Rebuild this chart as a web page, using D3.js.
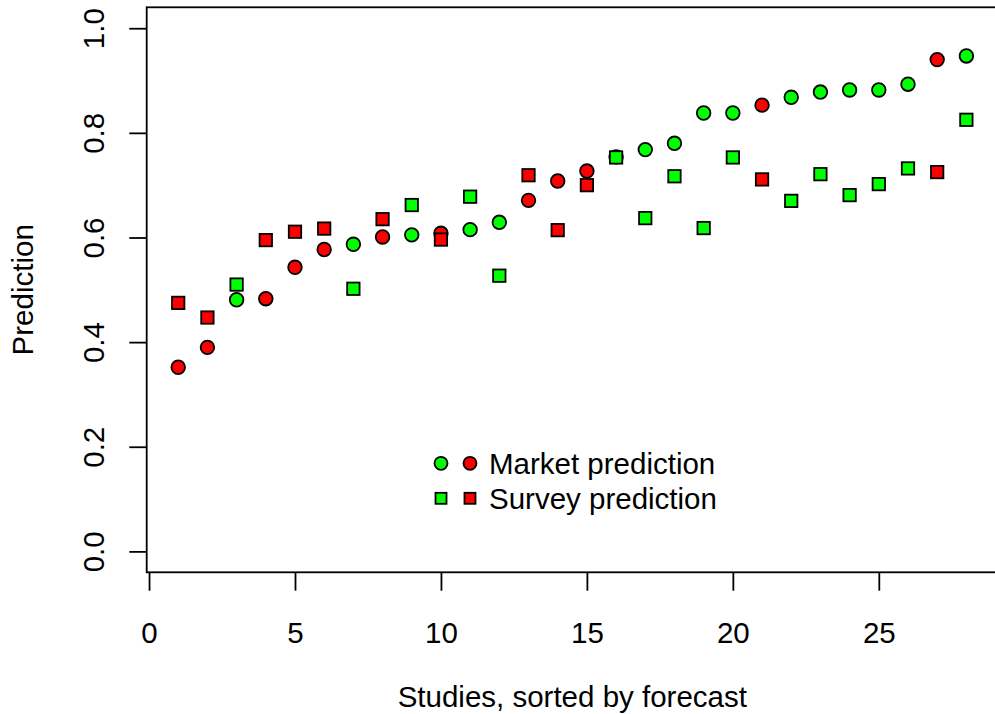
<!DOCTYPE html>
<html>
<head>
<meta charset="utf-8">
<script src="https://cdn.jsdelivr.net/npm/d3@7"></script>
<style>
  body { margin: 0; background: #fff; }
  svg { display: block; font-family: "Liberation Sans", Arial, sans-serif; }
</style>
</head>
<body>
<svg id="chart" width="995" height="714"></svg>
<script>
// studies, sorted by forecast
var studies = d3.range(1, 29);
var marketPred = [0.352, 0.390, 0.481, 0.483, 0.543, 0.577, 0.587, 0.601, 0.605, 0.608,
                  0.615, 0.629, 0.671, 0.708, 0.727, 0.754, 0.768, 0.780, 0.838, 0.838,
                  0.853, 0.868, 0.878, 0.882, 0.882, 0.893, 0.940, 0.947];
var surveyPred = [0.475, 0.447, 0.510, 0.595, 0.611, 0.617, 0.502, 0.635, 0.662, 0.596,
                  0.678, 0.527, 0.719, 0.614, 0.700, 0.753, 0.637, 0.717, 0.618, 0.753,
                  0.711, 0.670, 0.721, 0.681, 0.702, 0.732, 0.725, 0.825];
// true = replicated (green), false = not (red)
var replicated = [false, false, true, false, false, false, true, false, true, false,
                  true, true, false, false, false, true, true, true, true, true,
                  false, true, true, true, true, true, false, true];
var xTicks = [0, 5, 10, 15, 20, 25];
var yTicks = [0, 0.2, 0.4, 0.6, 0.8, 1.0];

var box = {left: 146.7, right: 997.9, top: 7.3, bottom: 572.3};
var fontSize = 29.5;
var lw = 1.8;

var svg = d3.select("#chart");

var x = d3.scaleLinear().domain([-0.08, 29.08]).range([box.left, box.right]);
var y = d3.scaleLinear().domain([-0.04, 1.04]).range([box.bottom, box.top]);

function colorOf(i) { return replicated[i] ? "#00ff00" : "#ff0000"; }

var market = studies.map(function(s, i) { return {study: s, value: marketPred[i], ok: replicated[i]}; });
var survey = studies.map(function(s, i) { return {study: s, value: surveyPred[i], ok: replicated[i]}; });

// box
svg.append("rect")
    .attr("x", box.left)
    .attr("y", box.top)
    .attr("width", box.right - box.left)
    .attr("height", box.bottom - box.top)
    .attr("fill", "none")
    .attr("stroke", "#000")
    .attr("stroke-width", lw);

// x axis
var xAxis = d3.axisBottom(x).tickValues(xTicks).tickSize(18.4).tickSizeOuter(0).tickPadding(31);
var gx = svg.append("g")
    .attr("transform", "translate(0," + box.bottom + ")")
    .call(xAxis);
gx.select(".domain").remove();
gx.selectAll(".tick line").attr("stroke-width", lw);
gx.selectAll(".tick text")
    .attr("font-size", fontSize)
    .attr("font-family", "Liberation Sans, Arial, sans-serif")
    .attr("fill", "#000");

// y axis
var yAxis = d3.axisLeft(y).tickValues(yTicks).tickSize(17.4).tickSizeOuter(0)
    .tickFormat(d3.format(".1f"));
var gy = svg.append("g")
    .attr("transform", "translate(" + box.left + ",0)")
    .call(yAxis);
gy.select(".domain").remove();
gy.selectAll(".tick line").attr("stroke-width", lw);
gy.selectAll(".tick text")
    .attr("x", null)
    .attr("dy", null)
    .attr("transform", "translate(" + (103.5 - box.left) + ",0) rotate(-90)")
    .attr("text-anchor", "middle")
    .attr("font-size", fontSize)
    .attr("font-family", "Liberation Sans, Arial, sans-serif")
    .attr("fill", "#000");

// axis titles
svg.append("text")
    .attr("x", (box.left + box.right) / 2)
    .attr("y", 707)
    .attr("text-anchor", "middle")
    .attr("font-size", fontSize)
    .text("Studies, sorted by forecast");

svg.append("text")
    .attr("transform", "translate(33.3," + (box.top + box.bottom) / 2 + ") rotate(-90)")
    .attr("text-anchor", "middle")
    .attr("font-size", fontSize)
    .text("Prediction");

// market prediction: circles
svg.append("g").selectAll("circle")
    .data(market)
  .enter().append("circle")
    .attr("cx", function(d) { return x(d.study); })
    .attr("cy", function(d) { return y(d.value); })
    .attr("r", 6.8)
    .attr("fill", function(d, i) { return colorOf(i); })
    .attr("stroke", "#000")
    .attr("stroke-width", lw);

// survey prediction: squares
var sq = 12.4;
svg.append("g").selectAll("rect")
    .data(survey)
  .enter().append("rect")
    .attr("x", function(d) { return x(d.study) - sq / 2; })
    .attr("y", function(d) { return y(d.value) - sq / 2; })
    .attr("width", sq)
    .attr("height", sq)
    .attr("fill", function(d, i) { return colorOf(i); })
    .attr("stroke", "#000")
    .attr("stroke-width", lw);

// legend
var legend = svg.append("g");
var legX = [441, 470], legY = [463.3, 498.3];
var legColors = ["#00ff00", "#ff0000"];
legColors.forEach(function(c, j) {
  legend.append("circle")
      .attr("cx", legX[j]).attr("cy", legY[0]).attr("r", 6.5)
      .attr("fill", c).attr("stroke", "#000").attr("stroke-width", lw);
  legend.append("rect")
      .attr("x", legX[j] - 5.5).attr("y", legY[1] - 5.5)
      .attr("width", 11).attr("height", 11)
      .attr("fill", c).attr("stroke", "#000").attr("stroke-width", lw);
});
legend.selectAll("text")
    .data(["Market prediction", "Survey prediction"])
  .enter().append("text")
    .attr("x", 489)
    .attr("y", function(d, i) { return legY[i]; })
    .attr("dy", "0.36em")
    .attr("font-size", fontSize)
    .text(function(d) { return d; });
</script>
</body>
</html>
